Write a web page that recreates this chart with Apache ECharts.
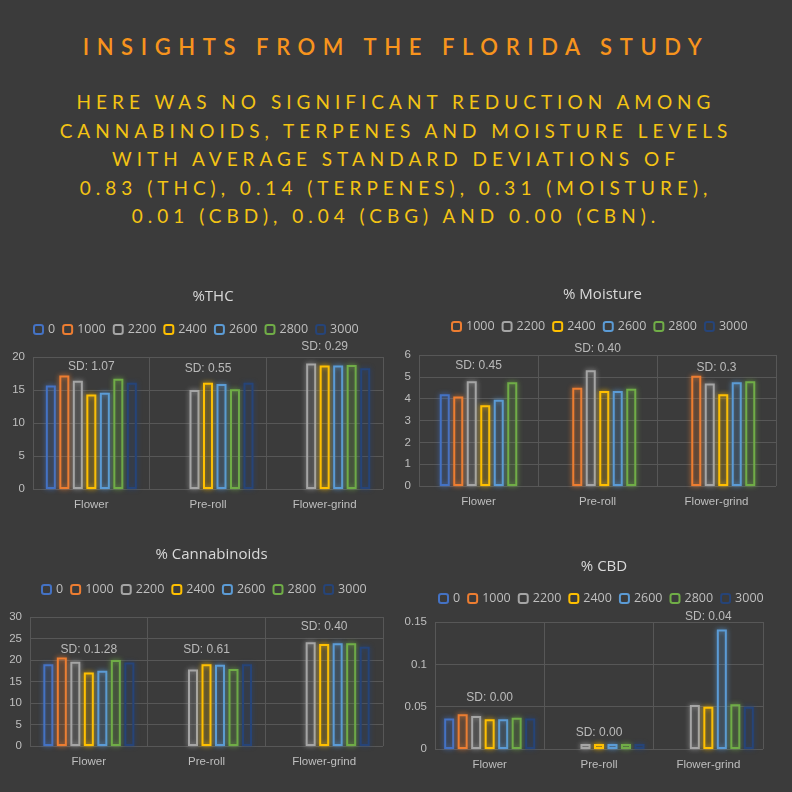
<!DOCTYPE html>
<html>
<head>
<meta charset="utf-8">
<script src="https://cdn.jsdelivr.net/npm/echarts@6/dist/echarts.min.js"></script>
<style>
  body { margin:0; background:#3b3b3b; width:792px; height:792px; overflow:hidden; font-family:Lato, "Open Sans", sans-serif; }
  #head { position:absolute; left:0; top:0; width:792px; height:270px; text-align:center; }
  #title { position:absolute; top:33px; width:100%; color:#f7941d; font-size:22px; letter-spacing:7.6px; font-weight:600; }
  #sub { position:absolute; top:88px; width:100%; color:#f4c414; font-size:19px; letter-spacing:5px; line-height:28.5px; }
  #mychars { position:absolute; left:0; top:270px; width:792px; height:522px; }
</style>
</head>
<body>
<div id="head">
  <div id="title">INSIGHTS FROM THE FLORIDA STUDY</div>
  <div id="sub">HERE WAS NO SIGNIFICANT REDUCTION AMONG<br>CANNABINOIDS, TERPENES AND MOISTURE LEVELS<br>WITH AVERAGE STANDARD DEVIATIONS OF<br>0.83 (THC), 0.14 (TERPENES), 0.31 (MOISTURE),<br>0.01 (CBD), 0.04 (CBG) AND 0.00 (CBN).</div>
</div>
<div id="mychars"></div>
<script>
var cats = ['Flower', 'Pre-roll', 'Flower-grind'];
var colors = {
  '0': '#4472c4', '1000': '#ed7d31', '2200': '#a5a5a5', '2400': '#ffc000',
  '2600': '#5b9bd5', '2800': '#70ad47', '3000': '#264478'
};
var moistColors = ['#4472c4', '#ed7d31', '#a5a5a5', '#ffc000', '#5b9bd5', '#70ad47'];

// 每个图表：名称、刻度、各系列数据（按 Flower / Pre-roll / Flower-grind）、SD标签
var panels = [
  { title: '%THC', max: 20, interval: 5,
    grid: { left: 33, right: 409, top: 87, height: 132 }, titleTop: 14, legendTop: 48, legendLeft: 28,
    names: ['0', '1000', '2200', '2400', '2600', '2800', '3000'],
    data: [[15.7, '-', '-'], [17.2, '-', '-'], [16.4, 15.0, 19.0], [14.3, 16.1, 18.7],
           [14.6, 15.9, 18.7], [16.7, 15.1, 18.8], [16.1, 16.1, 18.3]],
    sd: [['SD: 1.07', 18.6], ['SD: 0.55', 18.2], ['SD: 0.29', 21.6]] },
  { title: '% Moisture', max: 6, interval: 1,
    grid: { left: 419, right: 16, top: 85, height: 131 }, titleTop: 12, legendTop: 45, legendLeft: 446,
    names: ['1000', '2200', '2400', '2600', '2800', '3000'], colorList: moistColors,
    data: [[4.2, '-', '-'], [4.1, 4.5, 5.05], [4.8, 5.3, 4.7], [3.7, 4.35, 4.2],
           [3.95, 4.35, 4.75], [4.75, 4.45, 4.8]],
    sd: [['SD: 0.45', 5.5], ['SD: 0.40', 6.3], ['SD: 0.3', 5.4]] },
  { title: '% Cannabinoids', max: 30, interval: 5,
    grid: { left: 30, right: 409, top: 347, height: 129 }, titleTop: 272, legendTop: 308, legendLeft: 36,
    names: ['0', '1000', '2200', '2400', '2600', '2800', '3000'],
    data: [[19.0, '-', '-'], [20.6, '-', '-'], [19.6, 17.8, 24.1], [17.1, 19.0, 23.7],
           [17.5, 18.9, 23.9], [20.0, 17.9, 23.9], [19.4, 19.0, 23.1]],
    sd: [['SD: 0.1.28', 22.3], ['SD: 0.61', 22.3], ['SD: 0.40', 27.7]] },
  { title: '% CBD', max: 0.15, interval: 0.05,
    grid: { left: 435, right: 29, top: 352, height: 127 }, titleTop: 284, legendTop: 317, legendLeft: 433,
    names: ['0', '1000', '2200', '2400', '2600', '2800', '3000'],
    data: [[0.036, '-', '-'], [0.041, '-', '-'], [0.039, 0.006, 0.052], [0.035, 0.006, 0.05],
           [0.035, 0.006, 0.141], [0.037, 0.006, 0.053], [0.036, 0.006, 0.05]],
    sd: [['SD: 0.00', 0.061], ['SD: 0.00', 0.019], ['SD: 0.04', 0.156]] }
];

var option = { backgroundColor: 'transparent', title: [], legend: [], grid: [], xAxis: [], yAxis: [], series: [] };
panels.forEach(function (p, i) {
  var cx = p.grid.left + (792 - p.grid.left - p.grid.right) / 2;
  option.title.push({ text: p.title, left: cx, top: p.titleTop, textAlign: 'center',
    textStyle: { color: '#d9d9d9', fontSize: 15, fontWeight: 'normal', fontFamily: 'Open Sans' } });
  option.legend.push({ data: p.names, left: p.legendLeft, top: p.legendTop, itemWidth: 9, itemHeight: 9, itemGap: 7,
    textStyle: { color: '#bfbfbf', fontSize: 12.5, fontFamily: 'Open Sans' } });
  option.grid.push(p.grid);
  option.xAxis.push({ type: 'category', gridIndex: i, data: cats,
    axisLine: { show: false }, axisTick: { show: false },
    splitLine: { show: true, interval: 0, lineStyle: { color: '#575757' } },
    axisLabel: { color: '#bfbfbf', fontSize: 11.5, margin: 10 } });
  option.yAxis.push({ type: 'value', gridIndex: i, min: 0, max: p.max, interval: p.interval,
    axisLabel: { color: '#bfbfbf', fontSize: 11.5 },
    splitLine: { lineStyle: { color: '#575757' } } });
  p.names.forEach(function (n, k) {
    var c = p.colorList ? p.colorList[k] : colors[n];
    option.series.push({ name: n, type: 'bar', xAxisIndex: i, yAxisIndex: i, data: p.data[k],
      barWidth: 10, barGap: '35%',
      itemStyle: { color: 'rgba(0,0,0,0)', borderColor: c, borderWidth: 2, shadowColor: c, shadowBlur: 5 } });
  });
  // SD标签
  option.series.push({ type: 'scatter', xAxisIndex: i, yAxisIndex: i, symbolSize: 0, silent: true, clip: false,
    data: p.sd.map(function (s) { return { value: s[1], label: { formatter: s[0] } }; }),
    label: { show: true, position: 'inside', color: '#d9d9d9', fontSize: 12 } });
});

var myChart = echarts.init(document.getElementById('mychars'));
myChart.setOption(option);
</script>
</body>
</html>
